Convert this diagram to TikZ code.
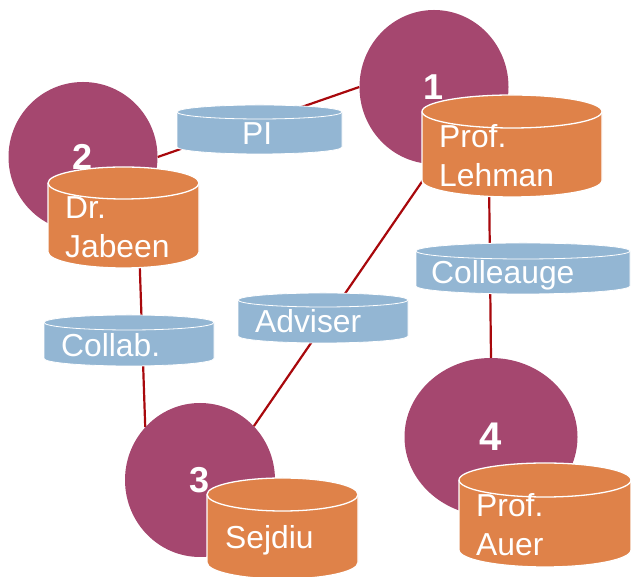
\documentclass[tikz,border=0pt]{standalone}
\usepackage{fontspec}
\setmainfont{Liberation Sans}
\usetikzlibrary{shapes.geometric}

\definecolor{personfill}{RGB}{165,71,111}
\definecolor{namefill}{RGB}{223,130,73}
\definecolor{rolefill}{RGB}{147,182,211}
\definecolor{linkred}{RGB}{168,8,12}

\pgfdeclarelayer{background}
\pgfsetlayers{background,main}

% upright drum: #1 fill colour, #2 left x, #3 right x, #4 top y, #5 bottom y, #6 end radius (y), #7 outline width
\newcommand\drum[7]{%
  \pgfmathsetmacro\drumrx{(#3-#2)/2}%
  \filldraw[fill=#1, draw=white, line width=#7]
    (#2,#4-#6) arc[start angle=180, end angle=0, x radius=\drumrx pt, y radius=#6pt]
    -- (#3,#5+#6) arc[start angle=0, end angle=-180, x radius=\drumrx pt, y radius=#6pt]
    -- cycle;
  \draw[white, line width=#7]
    (#2,#4-#6) arc[start angle=180, end angle=360, x radius=\drumrx pt, y radius=#6pt];
}

\begin{document}
\begin{tikzpicture}[x=1pt, y=1pt,
  person/.style={ellipse, fill=personfill, inner sep=0pt, text=white,
    font=\fontsize{36}{36}\selectfont\bfseries},
  drumtext/.style={text=white, anchor=base west, inner sep=0pt, align=left,
    font=\fontsize{31.8}{39}\selectfont},
  link/.style={draw=linkred, line width=2.2pt}]
\useasboundingbox (0,0) rectangle (631,577);

% relation drums
\drum{rolefill}{177}{342}{472}{423}{7}{0.8pt}
\drum{rolefill}{238}{408}{284}{234}{7}{0.8pt}
\drum{rolefill}{44}{214}{262}{211}{7.5}{0.8pt}
\drum{rolefill}{416}{630}{334}{283}{8}{0.8pt}
\node[drumtext] (rPI)  at (242,432) {PI};
\node[drumtext] (rAdv) at (255,244) {Adviser};
\node[drumtext] (rCol) at (61,220)  {Collab.};
\node[drumtext] (rCon) at (431,293) {Colleauge};

% people
\node[person, minimum width=149pt, minimum height=154pt] (c1) at (434,490) {1};
\node[person, minimum width=149pt, minimum height=150pt] (c2) at (83,420)  {2};
\node[person, minimum width=150pt, minimum height=154pt] (c3) at (200,97)  {3};
\node[person, minimum width=173pt, minimum height=158pt, font=\fontsize{40}{40}\selectfont\bfseries] (c4) at (491,140) {4};

% name drums (two-line names are placed by the baseline of their last line)
\drum{namefill}{422}{602}{482}{380}{16.5}{1.3pt}
\drum{namefill}{48}{199}{410}{309}{16}{1.3pt}
\drum{namefill}{207}{358}{99}{-2}{16.5}{1.3pt}
\drum{namefill}{459}{631}{114}{10}{17}{1.3pt}
\node[drumtext] (nLeh) at (439,390) {Prof.\\Lehman};
\node[drumtext] (nJab) at (65,319)  {Dr.\\Jabeen};
\node[drumtext] (nSej) at (225,28)  {Sejdiu};
\node[drumtext] (nAue) at (476,21)  {Prof.\\Auer};

% connections, kept behind everything else
\begin{pgfonlayer}{background}
\draw[link] (c2.east) -- (c1.west);
\draw[link] (c2.-43) -- (c3.136);
\draw[link] (c3.45) -- (c1.south);
\draw[link] (c1.-44) -- (c4.north);
\end{pgfonlayer}
\end{tikzpicture}
\end{document}
